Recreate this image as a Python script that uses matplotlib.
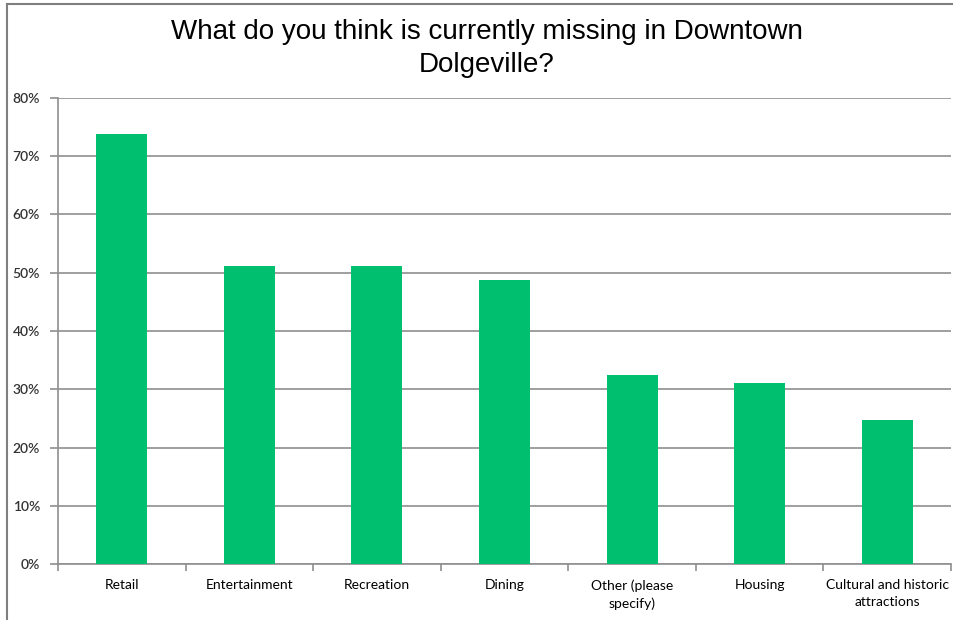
import matplotlib

matplotlib.use("Agg")
import matplotlib.pyplot as plt
from matplotlib.lines import Line2D
from matplotlib.ticker import FixedLocator, PercentFormatter

categories = [
    "Retail",
    "Entertainment",
    "Recreation",
    "Dining",
    "Other (please\nspecify)",
    "Housing",
    "Cultural and historic\nattractions",
]
shares = [73.8, 51.1, 51.1, 48.8, 32.5, 31.1, 24.8]
y_ticks = [0, 10, 20, 30, 40, 50, 60, 70, 80]

GREEN = "#00bf6f"
GRID = "#8f8f8f"

fig = plt.figure(figsize=(9.54, 6.2), dpi=100)
ax = fig.add_axes([0.0608, 0.0903, 0.936, 0.7517])

x = list(range(len(categories)))
ax.bar(x, shares, width=0.4, color=GREEN, zorder=3)

ax.set_xlim(-0.5, len(categories) - 0.5)
ax.set_ylim(0, 80)
ax.yaxis.set_major_locator(FixedLocator(y_ticks))
ax.yaxis.set_major_formatter(PercentFormatter(decimals=0))
ax.grid(axis="y", color=GRID, linewidth=1.2, zorder=0)

# category labels sit under the bars, tick marks fall between categories
ax.set_xticks(x)
ax.set_xticklabels(categories, fontsize=10, family="Lato", linespacing=1.5)
ax.tick_params(axis="x", length=0, pad=11)
ax.set_xticks([i - 0.5 for i in range(len(categories) + 1)], minor=True)
ax.tick_params(axis="x", which="minor", length=5, color=GRID, width=1.2)
ax.tick_params(axis="y", length=6, color=GRID, width=1.2, labelsize=10, pad=7)
for lab in ax.get_yticklabels():
    lab.set_family("Lato")
    lab.set_fontweight("semibold")
    lab.set_color("#333333")

for side in ("top", "right"):
    ax.spines[side].set_visible(False)
for side in ("left", "bottom"):
    ax.spines[side].set_color(GRID)
    ax.spines[side].set_linewidth(1.2)

fig.text(0.51, 0.921, "What do you think is currently missing in Downtown\nDolgeville?",
         ha="center", va="center", fontsize=20, family="Liberation Sans",
         linespacing=1.35)

# outer frame along the top and left edges
fig.add_artist(Line2D([7 / 954, 1], [1 - 4 / 620, 1 - 4 / 620], color="#7f7f7f", linewidth=1.5))
fig.add_artist(Line2D([7 / 954, 7 / 954], [0, 1 - 4 / 620], color="#7f7f7f", linewidth=1.5))

fig.savefig("out.png", dpi=100)
